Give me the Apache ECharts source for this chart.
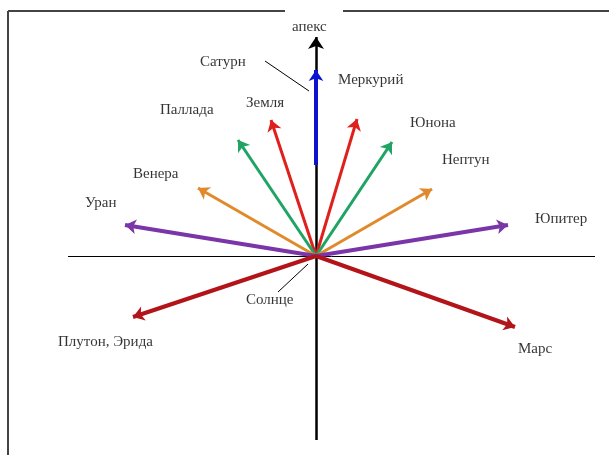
<!DOCTYPE html>
<html>
<head>
<meta charset="utf-8">
<style>
  html, body { margin: 0; padding: 0; background: #fff; }
  #chart { width: 609px; height: 455px; }
</style>
<script src="https://cdn.jsdelivr.net/npm/echarts@6/dist/echarts.min.js"></script>
</head>
<body>
<div id="chart"></div>
<script>
// sun at the origin, x to the right, y up (picture units)
const vectorTips = [
  [-45, 136], [41, 137],    // red
  [-78, 116], [76, 114],    // green
  [-118, 68], [116, 67],    // orange
  [-191, 31], [192, 31],    // purple
  [-183, -61], [199, -71]   // dark red
];
const vectorColors = ['#e0201c', '#e0201c', '#1fa463', '#1fa463', '#e08a2c', '#e08a2c',
  '#7a35a8', '#7a35a8', '#b3141a', '#b3141a'];

const apexAxis = [[0, -184], [0, 219]];
const mercuryVector = [[0, 91], [0, 186]];
const planeLine = [[-248, 0], [279, 0]];

const labelNames = ['апекс', 'Сатурн', 'Меркурий', 'Земля', 'Паллада', 'Юнона', 'Нептун',
  'Венера', 'Уран', 'Юпитер', 'Солнце', 'Плутон, Эрида', 'Марс'];
const labelPoints = [[-24, 229], [-116, 194], [22, 176], [-70, 153], [-156, 146], [94, 133],
  [126, 96], [-183, 82], [-231, 53], [219, 37], [-70, -44], [-258, -86], [202, -93]];

const leaderLines = [
  [[-51, 195], [-7, 165]],   // Сатурн
  [[-38, -36], [-8, -8]]     // Солнце
];

const frameLines = [
  [[-308, 245], [-31, 245]],
  [[27, 245], [293, 245]],
  [[-308, 245], [-308, -199]]
];

let myChart = echarts.init(document.getElementById('chart'));

let arrowData = vectorTips.map((tip, i) => {
  return {
    coords: [[0, 0], tip],
    lineStyle: { color: vectorColors[i], width: i >= 6 ? 4 : 3 }
  };
});

let option = {
  animation: false,
  backgroundColor: '#fff',
  grid: { left: 0, right: 0, top: 0, bottom: 0 },
  xAxis: { type: 'value', min: -316, max: 293, show: false },
  yAxis: { type: 'value', min: -199, max: 256, show: false },
  series: [
    {
      type: 'lines',
      coordinateSystem: 'cartesian2d',
      symbol: 'none',
      lineStyle: { color: '#444', width: 2, opacity: 1 },
      data: frameLines.map(c => ({ coords: c })),
      z: 1
    },
    {
      type: 'lines',
      coordinateSystem: 'cartesian2d',
      symbol: 'none',
      lineStyle: { color: '#000', width: 1, opacity: 1 },
      data: [{ coords: planeLine }].concat(leaderLines.map(c => ({ coords: c }))),
      z: 2
    },
    {
      type: 'lines',
      coordinateSystem: 'cartesian2d',
      symbol: ['none', 'arrow'],
      symbolSize: 12,
      lineStyle: { color: '#000', width: 2.5, opacity: 1 },
      data: [{ coords: apexAxis }],
      z: 3
    },
    {
      type: 'lines',
      coordinateSystem: 'cartesian2d',
      symbol: ['none', 'arrow'],
      symbolSize: 11,
      lineStyle: { opacity: 1 },
      data: arrowData,
      z: 4
    },
    {
      type: 'lines',
      coordinateSystem: 'cartesian2d',
      symbol: ['none', 'arrow'],
      symbolSize: 11,
      lineStyle: { color: '#0a14d0', width: 4, opacity: 1 },
      data: [{ coords: mercuryVector }],
      z: 5
    },
    {
      type: 'scatter',
      symbolSize: 0,
      silent: true,
      data: labelPoints.map((p, i) => ({ value: p, name: labelNames[i] })),
      label: {
        show: true,
        position: 'right',
        distance: 0,
        formatter: '{b}',
        color: '#000',
        fontFamily: 'Liberation Serif',
        fontSize: 15
      },
      z: 6
    }
  ]
};

myChart.setOption(option);
</script>
</body>
</html>
